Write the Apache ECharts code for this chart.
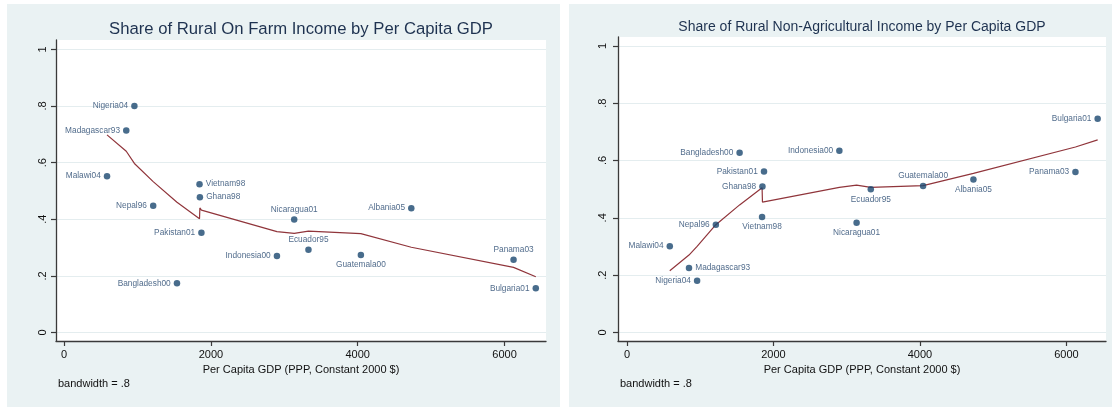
<!DOCTYPE html>
<html>
<head>
<meta charset="utf-8">
<script src="https://cdn.jsdelivr.net/npm/echarts@6/dist/echarts.min.js"></script>
<style>
  body { margin: 0; background: #fff; width: 1112px; height: 407px; overflow: hidden; position: relative; }
  .panel { position: absolute; top: 4px; height: 403px; background: #eaf2f3; }
</style>
</head>
<body>
<div id="onfarm" class="panel" style="left:7px;width:553px"></div>
<div id="nonag" class="panel" style="left:569px;width:543px"></div>
<script>
// countries sorted by per capita GDP
var countries = ['Malawi04', 'Madagascar93', 'Nigeria04', 'Nepal96', 'Bangladesh00', 'Vietnam98', 'Ghana98',
  'Pakistan01', 'Indonesia00', 'Nicaragua01', 'Ecuador95', 'Guatemala00', 'Albania05', 'Panama03', 'Bulgaria01'];
var gdp = [585, 847, 958, 1214, 1538, 1845, 1850, 1871, 2900, 3135, 3329, 4043, 4730, 6123, 6426];
var onFarmShare = [.552, .713, .800, .448, .174, .524, .478, .352, .270, .399, .292, .274, .439, .257, .156];
var nonAgShare = [.301, .225, .180, .376, .627, .403, .509, .562, .634, .383, .500, .511, .534, .560, .746];

// lowess smooth, evaluated at each gdp value
var onFarmSmooth = [.698, .640, .597, .533, .460, .402, .440, .432, .356, .350, .358, .349, .301, .230, .197];
var nonAgSmooth = [.215, .270, .300, .376, .445, .505, .455, .457, .506, .514, .506, .512, .555, .647, .672];

var yTicks = [0, .2, .4, .6, .8, 1];
var xTicks = [0, 2000, 4000, 6000];

// where each marker label sits (default left)
var onFarmLabelPos = { Vietnam98: 'right', Ghana98: 'right', Nicaragua01: 'top', Ecuador95: 'top',
  Guatemala00: 'bottom', Panama03: 'top' };
var nonAgLabelPos = { Guatemala00: 'top', Albania05: 'bottom', Ecuador95: 'bottom', Vietnam98: 'bottom',
  Nicaragua01: 'bottom', Madagascar93: 'right' };

var FONT = '"Liberation Sans", Arial, sans-serif';

function yFmt(v) {
  if (v === 0) return '0';
  if (v === 1) return '1';
  return String(v).replace(/^0/, '');
}

function buildChart(id, title, titleSize, titleY, shares, smooth, labelPos, grid, xRange, yRange, yLabelMargin) {
  var chart = echarts.init(document.getElementById(id));
  var points = countries.map(function (c, i) {
    return { name: c, value: [gdp[i], shares[i]], label: { position: labelPos[c] || 'left' } };
  });
  var line = gdp.map(function (g, i) { return [g, smooth[i]]; });
  var plotCenter = grid.left + (chart.getWidth() - grid.left - grid.right) / 2;

  chart.setOption({
    animation: false,
    textStyle: { fontFamily: FONT },
    graphic: [
      { type: 'text', x: plotCenter, y: titleY,
        style: { text: title, fontSize: titleSize, fontFamily: FONT, fill: '#1e3250', align: 'center', verticalAlign: 'middle' } },
      { type: 'text', x: 51, y: 380,
        style: { text: 'bandwidth = .8', fontSize: 11, fontFamily: FONT, fill: '#111', align: 'left', verticalAlign: 'middle' } }
    ],
    grid: { left: grid.left, top: grid.top, right: grid.right, bottom: grid.bottom,
      show: true, backgroundColor: '#fff', borderWidth: 0 },
    xAxis: {
      type: 'value', min: xRange[0], max: xRange[1],
      name: 'Per Capita GDP (PPP, Constant 2000 $)', nameLocation: 'middle', nameGap: 20,
      nameTextStyle: { fontSize: 11, color: '#111', fontFamily: FONT },
      axisLine: { show: true, onZero: false, lineStyle: { color: '#3a3a3a', width: 1.3 } },
      axisTick: { show: true, length: 5, customValues: xTicks, lineStyle: { color: '#3a3a3a', width: 1.2 } },
      axisLabel: { customValues: xTicks, fontSize: 11, color: '#111', margin: 8, fontFamily: FONT,
        formatter: function (v) { return String(v); } },
      splitLine: { show: false }
    },
    yAxis: {
      type: 'value', min: yRange[0], max: yRange[1],
      axisLine: { show: true, onZero: false, lineStyle: { color: '#3a3a3a', width: 1.3 } },
      axisTick: { show: true, length: 5, customValues: yTicks, lineStyle: { color: '#3a3a3a', width: 1.2 } },
      axisLabel: { customValues: yTicks, fontSize: 11, color: '#111', rotate: 90, margin: yLabelMargin,
        formatter: yFmt, fontFamily: FONT },
      splitLine: { show: true, lineStyle: { color: '#e4edef', width: 1.2 } }
    },
    series: [
      {
        type: 'line', data: line, showSymbol: false, silent: true,
        lineStyle: { color: '#90353b', width: 1.2 }, z: 2
      },
      {
        type: 'scatter', data: points, symbolSize: 6.5, z: 3,
        itemStyle: { color: '#1a476f' },
        label: { show: true, formatter: '{b}', fontSize: 8.3, color: '#24466e', distance: 3, fontFamily: FONT }
      }
    ]
  });
  return chart;
}

buildChart('onfarm', 'Share of Rural On Farm Income by Per Capita GDP', 16.7, 25.5,
  onFarmShare, onFarmSmooth, onFarmLabelPos,
  { left: 49, top: 36, right: 14, bottom: 66 }, [-110, 6565], [-0.030, 1.033], 8);

buildChart('nonag', 'Share of Rural Non-Agricultural Income by Per Capita GDP', 14, 22.7,
  nonAgShare, nonAgSmooth, nonAgLabelPos,
  { left: 49, top: 33, right: 6, bottom: 66 }, [-122, 6540], [-0.030, 1.031], 10);
</script>
</body>
</html>
